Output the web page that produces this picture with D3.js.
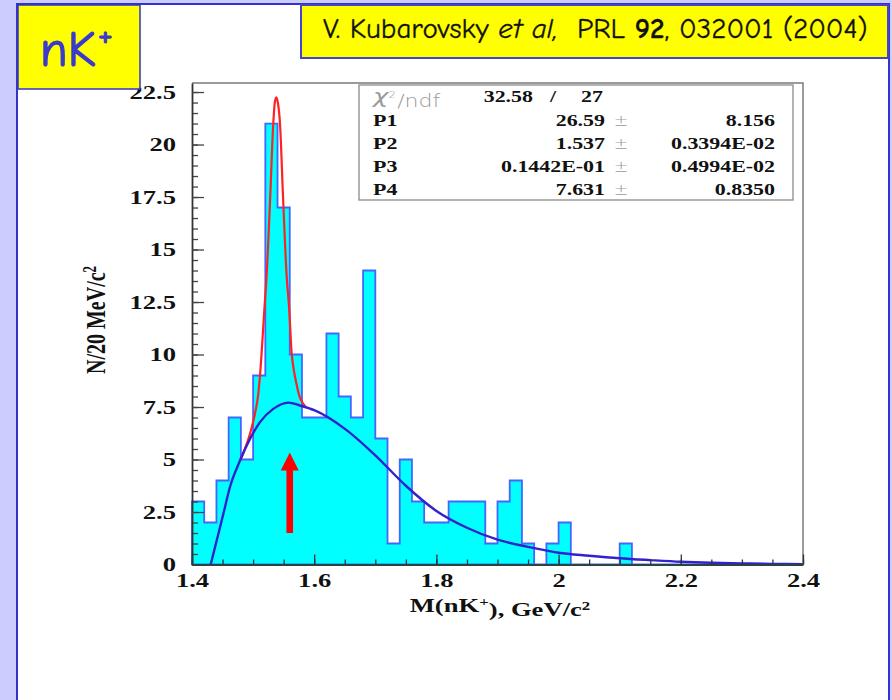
<!DOCTYPE html>
<html>
<head>
<meta charset="utf-8">
<script src="https://cdn.jsdelivr.net/npm/d3@7"></script>
<style>
  html, body { margin: 0; padding: 0; background: #ccccff; }
  svg { display: block; }
</style>
</head>
<body>
<svg id="chart" width="892" height="700"></svg>
<script>
// nK+ invariant mass spectrum, 20 MeV/c^2 bins from 1.4 GeV/c^2
const binStart = 1.4;
const binWidth = 0.02;
const counts = [
  3, 2, 4, 7, 5, 9, 21, 17, 10, 7,
  7, 11, 8, 7, 14, 6, 1, 5, 3, 2,
  2, 3, 3, 3, 1, 3, 4, 1, 0, 1,
  2, 0, 0, 0, 0, 1, 0, 0, 0, 0,
  0, 0, 0, 0, 0, 0, 0, 0, 0, 0
];

// axis ticks
const xTicks = [1.4, 1.6, 1.8, 2.0, 2.2, 2.4];
const xTickLabels = ["1.4", "1.6", "1.8", "2", "2.2", "2.4"];
const yTicks = [0, 2.5, 5, 7.5, 10, 12.5, 15, 17.5, 20, 22.5];
const yTickLabels = ["0", "2.5", "5", "7.5", "10", "12.5", "15", "17.5", "20", "22.5"];

// background fit curve (blue)
const bgX = [1.4306, 1.4404, 1.4513, 1.462, 1.4786, 1.4949, 1.5113, 1.533, 1.5577, 1.5768,
             1.60, 1.653, 1.70, 1.75, 1.80, 1.85, 1.90, 1.95, 2.00, 2.05,
             2.10, 2.15, 2.20, 2.25, 2.30, 2.35, 2.40];
const bgY = [0, 1.14, 2.41, 3.68, 4.95, 5.98, 6.78, 7.41, 7.71, 7.57,
             7.35, 6.4, 5.2, 3.75, 2.55, 1.75, 1.18, 0.84, 0.56, 0.42,
             0.30, 0.21, 0.13, 0.08, 0.05, 0.03, 0.02];

// peak + background fit curve (red)
const peakX = [1.4786, 1.4949, 1.503, 1.5085, 1.5113, 1.519, 1.522, 1.528, 1.533, 1.5355,
               1.538, 1.5405, 1.544, 1.549, 1.555, 1.559, 1.563, 1.567, 1.571, 1.576,
               1.581, 1.586];
const peakY = [4.95, 6.22, 7.18, 8.13, 9.0, 12.4, 13.7, 17.5, 21.0, 22.0,
               22.25, 22.0, 21.0, 17.5, 13.7, 12.2, 10.1, 9.2, 8.6, 8.0,
               7.7, 7.5];

// fit statistics
const chi2 = "32.58";
const ndf = "27";
const fitNames = ["P1", "P2", "P3", "P4"];
const fitValues = ["26.59", "1.537", "0.1442E-01", "7.631"];
const fitErrors = ["8.156", "0.3394E-02", "0.4994E-02", "0.8350"];

// arrow marking the peak position
const arrowX = 1.56;
const arrowFrom = 1.5;
const arrowTo = 5.33;

const svg = d3.select("#chart");
const serif = "'Liberation Serif', 'Times New Roman', serif";
const comic = "'Comic Sans MS', 'Comic Neue', 'Open Sans', 'Noto Sans', sans-serif";
const STRETCH = 1.4;

// ---- page panel ----
svg.append("rect").attr("x", 0).attr("y", 0).attr("width", 892).attr("height", 700).attr("fill", "#ccccff");
svg.append("rect").attr("x", 17).attr("y", 4).attr("width", 872).attr("height", 700)
  .attr("fill", "#ffffff").attr("stroke", "#3333cc").attr("stroke-width", 2);

// ---- scales ----
const x = d3.scaleLinear().domain([1.4, 2.4]).range([192, 803]);
const y = d3.scaleLinear().domain([0, 22.93]).range([564.5, 83]);

// ---- histogram ----
const hist = d3.path();
hist.moveTo(x(binStart), y(0));
counts.forEach((c, i) => {
  const lo = binStart + i * binWidth;
  hist.lineTo(x(lo), y(c));
  hist.lineTo(x(lo + binWidth), y(c));
});
hist.lineTo(x(binStart + counts.length * binWidth), y(0));
hist.closePath();
svg.append("path").attr("d", hist.toString())
  .attr("fill", "#00ffff").attr("stroke", "#4466ff").attr("stroke-width", 1.8)
  .attr("stroke-linejoin", "miter");

// ---- fit curves ----
const line = d3.line().x(d => x(d[0])).y(d => y(d[1])).curve(d3.curveMonotoneX);
svg.append("path").attr("d", line(peakX.map((v, i) => [v, peakY[i]])))
  .attr("fill", "none").attr("stroke", "#ff2222").attr("stroke-width", 2.2);
svg.append("path").attr("d", line(bgX.map((v, i) => [v, bgY[i]])))
  .attr("fill", "none").attr("stroke", "#3322cc").attr("stroke-width", 2.4);

// ---- arrow ----
const ax = x(arrowX);
const tipY = y(arrowTo);
const headBase = tipY + 18;
svg.append("rect").attr("x", ax - 3.3).attr("y", headBase - 1).attr("width", 6.6)
  .attr("height", y(arrowFrom) - headBase + 1).attr("fill", "#ff0000");
svg.append("path").attr("d", `M${ax},${tipY}L${ax + 9},${headBase}L${ax - 9},${headBase}Z`)
  .attr("fill", "#ff0000");

// ---- axes ----
function stretchLabels(sel) {
  sel.selectAll(".tick text").each(function () {
    const t = d3.select(this);
    const tx = +t.attr("x") || 0;
    const ty = +t.attr("y") || 0;
    t.attr("x", 0).attr("y", 0)
     .attr("transform", `translate(${tx},${ty}) scale(${STRETCH},1)`);
  });
}

// frame top and right
svg.append("path").attr("d", `M${x(1.4)},${y.range()[1]}H${x(2.4)}V${y(0)}`)
  .attr("fill", "none").attr("stroke", "#7a7a7a").attr("stroke-width", 1.5);

// y minor
svg.append("g").attr("transform", `translate(${x(1.4)},0)`)
  .call(d3.axisLeft(y).tickValues(d3.range(0, 22.51, 0.5)).tickSize(-6).tickSizeOuter(0).tickFormat(""))
  .call(g => g.select(".domain").remove())
  .call(g => g.selectAll("line").attr("stroke", "#444").attr("stroke-width", 1.3));
// y major
const yAxis = svg.append("g").attr("transform", `translate(${x(1.4)},0)`)
  .call(d3.axisLeft(y).tickValues(yTicks).tickSize(-12).tickSizeOuter(0).tickPadding(16)
        .tickFormat((d, i) => yTickLabels[i]));
yAxis.select(".domain").attr("stroke", "#333").attr("stroke-width", 1.8);
yAxis.selectAll("line").attr("stroke", "#444").attr("stroke-width", 1.3);
yAxis.selectAll("text").attr("font-family", serif).attr("font-weight", "bold")
  .attr("font-size", 19).attr("fill", "#111");
stretchLabels(yAxis);

// x minor
svg.append("g").attr("transform", `translate(0,${y(0)})`)
  .call(d3.axisBottom(x).tickValues(d3.range(1.4, 2.401, 0.05)).tickSize(-5).tickSizeOuter(0).tickFormat(""))
  .call(g => g.select(".domain").remove())
  .call(g => g.selectAll("line").attr("stroke", "#333").attr("stroke-width", 1.3));
// x major
const xAxis = svg.append("g").attr("transform", `translate(0,${y(0)})`)
  .call(d3.axisBottom(x).tickValues(xTicks).tickSize(-10).tickSizeOuter(0).tickPadding(9)
        .tickFormat((d, i) => xTickLabels[i]));
xAxis.select(".domain").attr("stroke", "#2a4444").attr("stroke-width", 1.8);
xAxis.selectAll("line").attr("stroke", "#333").attr("stroke-width", 1.3);
xAxis.selectAll("text").attr("font-family", serif).attr("font-weight", "bold")
  .attr("font-size", 19).attr("fill", "#111");
stretchLabels(xAxis);

// ---- axis titles ----
const yTitle = svg.append("text")
  .attr("transform", `translate(105,320) scale(${STRETCH},1) rotate(-90)`)
  .attr("text-anchor", "middle").attr("font-family", serif).attr("font-weight", "bold")
  .attr("font-size", 20).attr("fill", "#111");
yTitle.append("tspan").text("N/20 MeV/c");
yTitle.append("tspan").attr("dy", "-0.5em").attr("font-size", 13).text("2");

const xTitle = svg.append("text")
  .attr("transform", `translate(500,612) scale(${STRETCH},1)`)
  .attr("text-anchor", "middle").attr("font-family", serif).attr("font-weight", "bold")
  .attr("font-size", 19).attr("fill", "#111");
xTitle.append("tspan").text("M(nK");
xTitle.append("tspan").attr("dy", "-0.5em").attr("font-size", 12).text("+");
xTitle.append("tspan").attr("dy", "0.5em").text("), GeV/c");
xTitle.append("tspan").attr("dy", "-0.5em").attr("font-size", 12).text("2");

// ---- statistics box ----
svg.append("rect").attr("x", 359).attr("y", 85).attr("width", 434).attr("height", 115)
  .attr("fill", "#ffffff").attr("stroke", "#8a8a8a").attr("stroke-width", 1.3);

function stext(px, py, str, anchor, opts = {}) {
  return svg.append("text")
    .attr("transform", `translate(${px},${py}) scale(${opts.k || 1.37},1)`)
    .attr("text-anchor", anchor)
    .attr("font-family", opts.family || serif)
    .attr("font-weight", opts.weight || "bold")
    .attr("font-size", opts.size || 16)
    .attr("fill", opts.fill || "#111")
    .text(str);
}
const rowY = [126, 149, 172, 195];
// chi2 / ndf row
const chiLabel = svg.append("text")
  .attr("transform", "translate(373,103) scale(1.3,1)")
  .attr("font-family", "'DejaVu Sans', sans-serif").attr("font-weight", "300")
  .attr("font-size", 17).attr("fill", "#9a9a9a");
chiLabel.append("tspan").attr("font-style", "italic").attr("font-size", 20).text("\u03C7");
chiLabel.append("tspan").attr("dy", "-0.55em").attr("font-size", 9).text("2");
chiLabel.append("tspan").attr("dy", "0.5em").attr("dx", 1).text("/ndf");
stext(533, 102, chi2, "end");
stext(553, 102, "/", "middle");
stext(603, 102, ndf, "end");
fitNames.forEach((n, i) => {
  stext(373, rowY[i], n, "start");
  stext(605, rowY[i], fitValues[i], "end");
  stext(621, rowY[i], "\u00B1", "middle", { family: "'DejaVu Sans', sans-serif", weight: "300", fill: "#9a9a9a", k: 1.1 });
  stext(775, rowY[i], fitErrors[i], "end");
});

// ---- labels in yellow boxes ----
svg.append("rect").attr("x", 18).attr("y", 5).attr("width", 122).attr("height", 84)
  .attr("fill", "#ffff00").attr("stroke", "#3333cc").attr("stroke-width", 1.5);
const nk = svg.append("text").attr("x", 40).attr("y", 66)
  .attr("font-family", comic).attr("font-size", 50).attr("fill", "#3a3acc")
  .attr("stroke", "#3a3acc").attr("stroke-width", 1.2);
nk.append("tspan").text("nK");
nk.append("tspan").attr("dy", "-0.6em").attr("dx", 2).attr("font-size", 34).text("+");

svg.append("rect").attr("x", 301).attr("y", 5).attr("width", 587).attr("height", 53)
  .attr("fill", "#ffff00").attr("stroke", "#4444cc").attr("stroke-width", 2);
const title = svg.append("text").attr("x", 323).attr("y", 38)
  .attr("font-family", comic).attr("font-size", 23).attr("fill", "#111")
  .attr("stroke", "#111").attr("stroke-width", 0.3);
title.append("tspan").text("V. Kubarovsky ");
title.append("tspan").attr("font-style", "italic").text("et al,");
title.append("tspan").text("\u00A0 PRL ");
title.append("tspan").attr("font-weight", "bold").text("92");
title.append("tspan").text(", 032001 (2004)");
// fit the title line to its box
const tw = title.node().getComputedTextLength();
title.attr("font-size", 23 * 545 / tw);
</script>
</body>
</html>
